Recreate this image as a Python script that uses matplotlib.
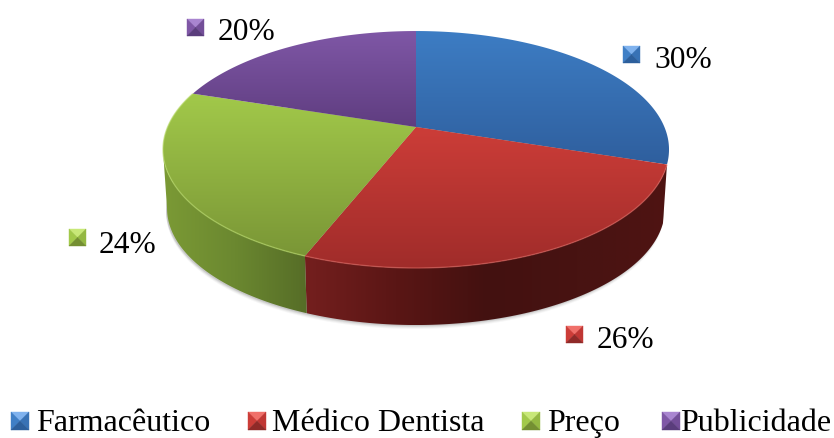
from matplotlib import pyplot as plt
from matplotlib.patches import Polygon
from matplotlib.colors import LinearSegmentedColormap
import numpy as np

# chart data
labels = ['Farmacêutico', 'Médico Dentista', 'Preço', 'Publicidade']
values = [30, 26, 24, 20]

# top face gradient (top of slice, bottom of slice)
top_colors = [('#3d7dc4', '#2f5f9e'), ('#cc3d38', '#a02c2a'), ('#a2c94a', '#7a9636'), ('#7f57a6', '#5f3d80')]
# side colours, left to right
side_colors = [None, ('#741f1e', '#5a1615', '#431110', '#481312', '#4f1412'), ('#7b9a35', '#6b8830', '#566d27'), None]
rim_colors = [None, '#d9605a', '#b5d865', None]
key_colors = [('#7fb2ee', '#3f7fc6', '#3872b5', '#2c5f9c'), ('#f0706a', '#cc3d38', '#c03734', '#8f2a28'),
              ('#c8e878', '#a2c94a', '#94b842', '#748f32'), ('#a985d0', '#7f57a6', '#734e98', '#5a3d7c')]

# label layout in pixels (key left, key top, text left, text baseline)
pct_pos = [(623, 46, 654, 68), (566, 326, 597, 348), (69, 229, 99, 253), (187, 19, 218, 40)]
legend_pos = [(11, 412, 36, 431), (248, 412, 272, 431), (522, 412, 547, 431), (662, 412, 680, 431)]

# pie geometry in pixels
cx, cy = 416, 127
A, B, k = 248.4, 114.2, 0.19
depth, shrink = 59.3, 0.984

font = 'Liberation Serif'

fig = plt.figure(figsize=(8.34, 4.38), dpi=100)
ax = fig.add_axes([0, 0, 1, 1])


def rim(t, lower=False):
    # perspective view of the unit circle
    u, v = np.cos(t), np.sin(t)
    d = 1 + k * v
    x, y = A * u / d, B * v / d
    if lower:
        return cx + shrink * x, cy + depth - shrink * y
    return cx + x, cy - y


def gradient(poly, colors, horizontal=False, zorder=2):
    xs, ys = poly[:, 0], poly[:, 1]
    cmap = LinearSegmentedColormap.from_list('g', list(colors))
    g = np.linspace(0, 1, 256)
    g = g[None, :] if horizontal else g[:, None]
    im = ax.imshow(g, cmap=cmap, aspect='auto', zorder=zorder, interpolation='bilinear',
                   extent=[xs.min(), xs.max(), ys.max(), ys.min()], vmin=0, vmax=1)
    p = Polygon(poly, closed=True, facecolor='none', edgecolor='none', transform=ax.transData)
    ax.add_patch(p)
    im.set_clip_path(p)


def key(x, y, colors, size=17):
    c = (x + size / 2, y + size / 2)
    a, b, e, d = (x, y), (x + size, y), (x + size, y + size), (x, y + size)
    for tri, col in zip([(a, b, c), (d, a, c), (b, e, c), (e, d, c)], colors):
        ax.add_patch(Polygon(tri, closed=True, facecolor=col, edgecolor=col, linewidth=0.3, zorder=5))


# angles of the slices, clockwise from the top
edges = np.pi / 2 - 2 * np.pi * np.cumsum([0] + values) / sum(values)
# left end of the visible wall
left_limit = -np.pi + np.arcsin(k)

# soft shadow below the pie
tt = np.linspace(0, 2 * np.pi, 300)
sx, sy = rim(tt, lower=True)
for off, al in [(4, 0.05), (3, 0.07), (2, 0.1), (1, 0.14)]:
    ax.fill(sx - 1, sy + off, color='#555555', alpha=al, linewidth=0, zorder=1)

# side walls
for i in range(len(values)):
    if side_colors[i] is None:
        continue
    t = np.linspace(edges[i], max(edges[i + 1], left_limit), 200)
    x1, y1 = rim(t)
    x2, y2 = rim(t, lower=True)
    poly = np.column_stack([np.r_[x1, x2[::-1]], np.r_[y1, y2[::-1]]])
    gradient(poly, side_colors[i], horizontal=True, zorder=2)

# top face
for i in range(len(values)):
    t = np.linspace(edges[i], edges[i + 1], 200)
    x1, y1 = rim(t)
    poly = np.column_stack([np.r_[cx, x1], np.r_[cy, y1]])
    gradient(poly, top_colors[i], zorder=3)
    if rim_colors[i] is not None:
        keep = (np.sin(t) < 0) | (np.cos(t) < -0.9)
        ax.plot(x1[keep], y1[keep], color=rim_colors[i], lw=1.0, alpha=0.6, zorder=4, solid_capstyle='butt')

# percentage labels
for i, v in enumerate(values):
    kx, ky, tx, ty = pct_pos[i]
    key(kx, ky, key_colors[i])
    ax.text(tx, ty, f'{v}%', fontsize=22.6, family=font, va='baseline', ha='left', color='black', zorder=6)

# legend
for i, name in enumerate(labels):
    kx, ky, tx, ty = legend_pos[i]
    key(kx, ky, key_colors[i], size=18)
    ax.text(tx, ty, name, fontsize=23, family=font, va='baseline', ha='left', color='black', zorder=6)

ax.set_xlim(0, 834)
ax.set_ylim(438, 0)
ax.axis('off')
fig.savefig('out.png', dpi=100)
